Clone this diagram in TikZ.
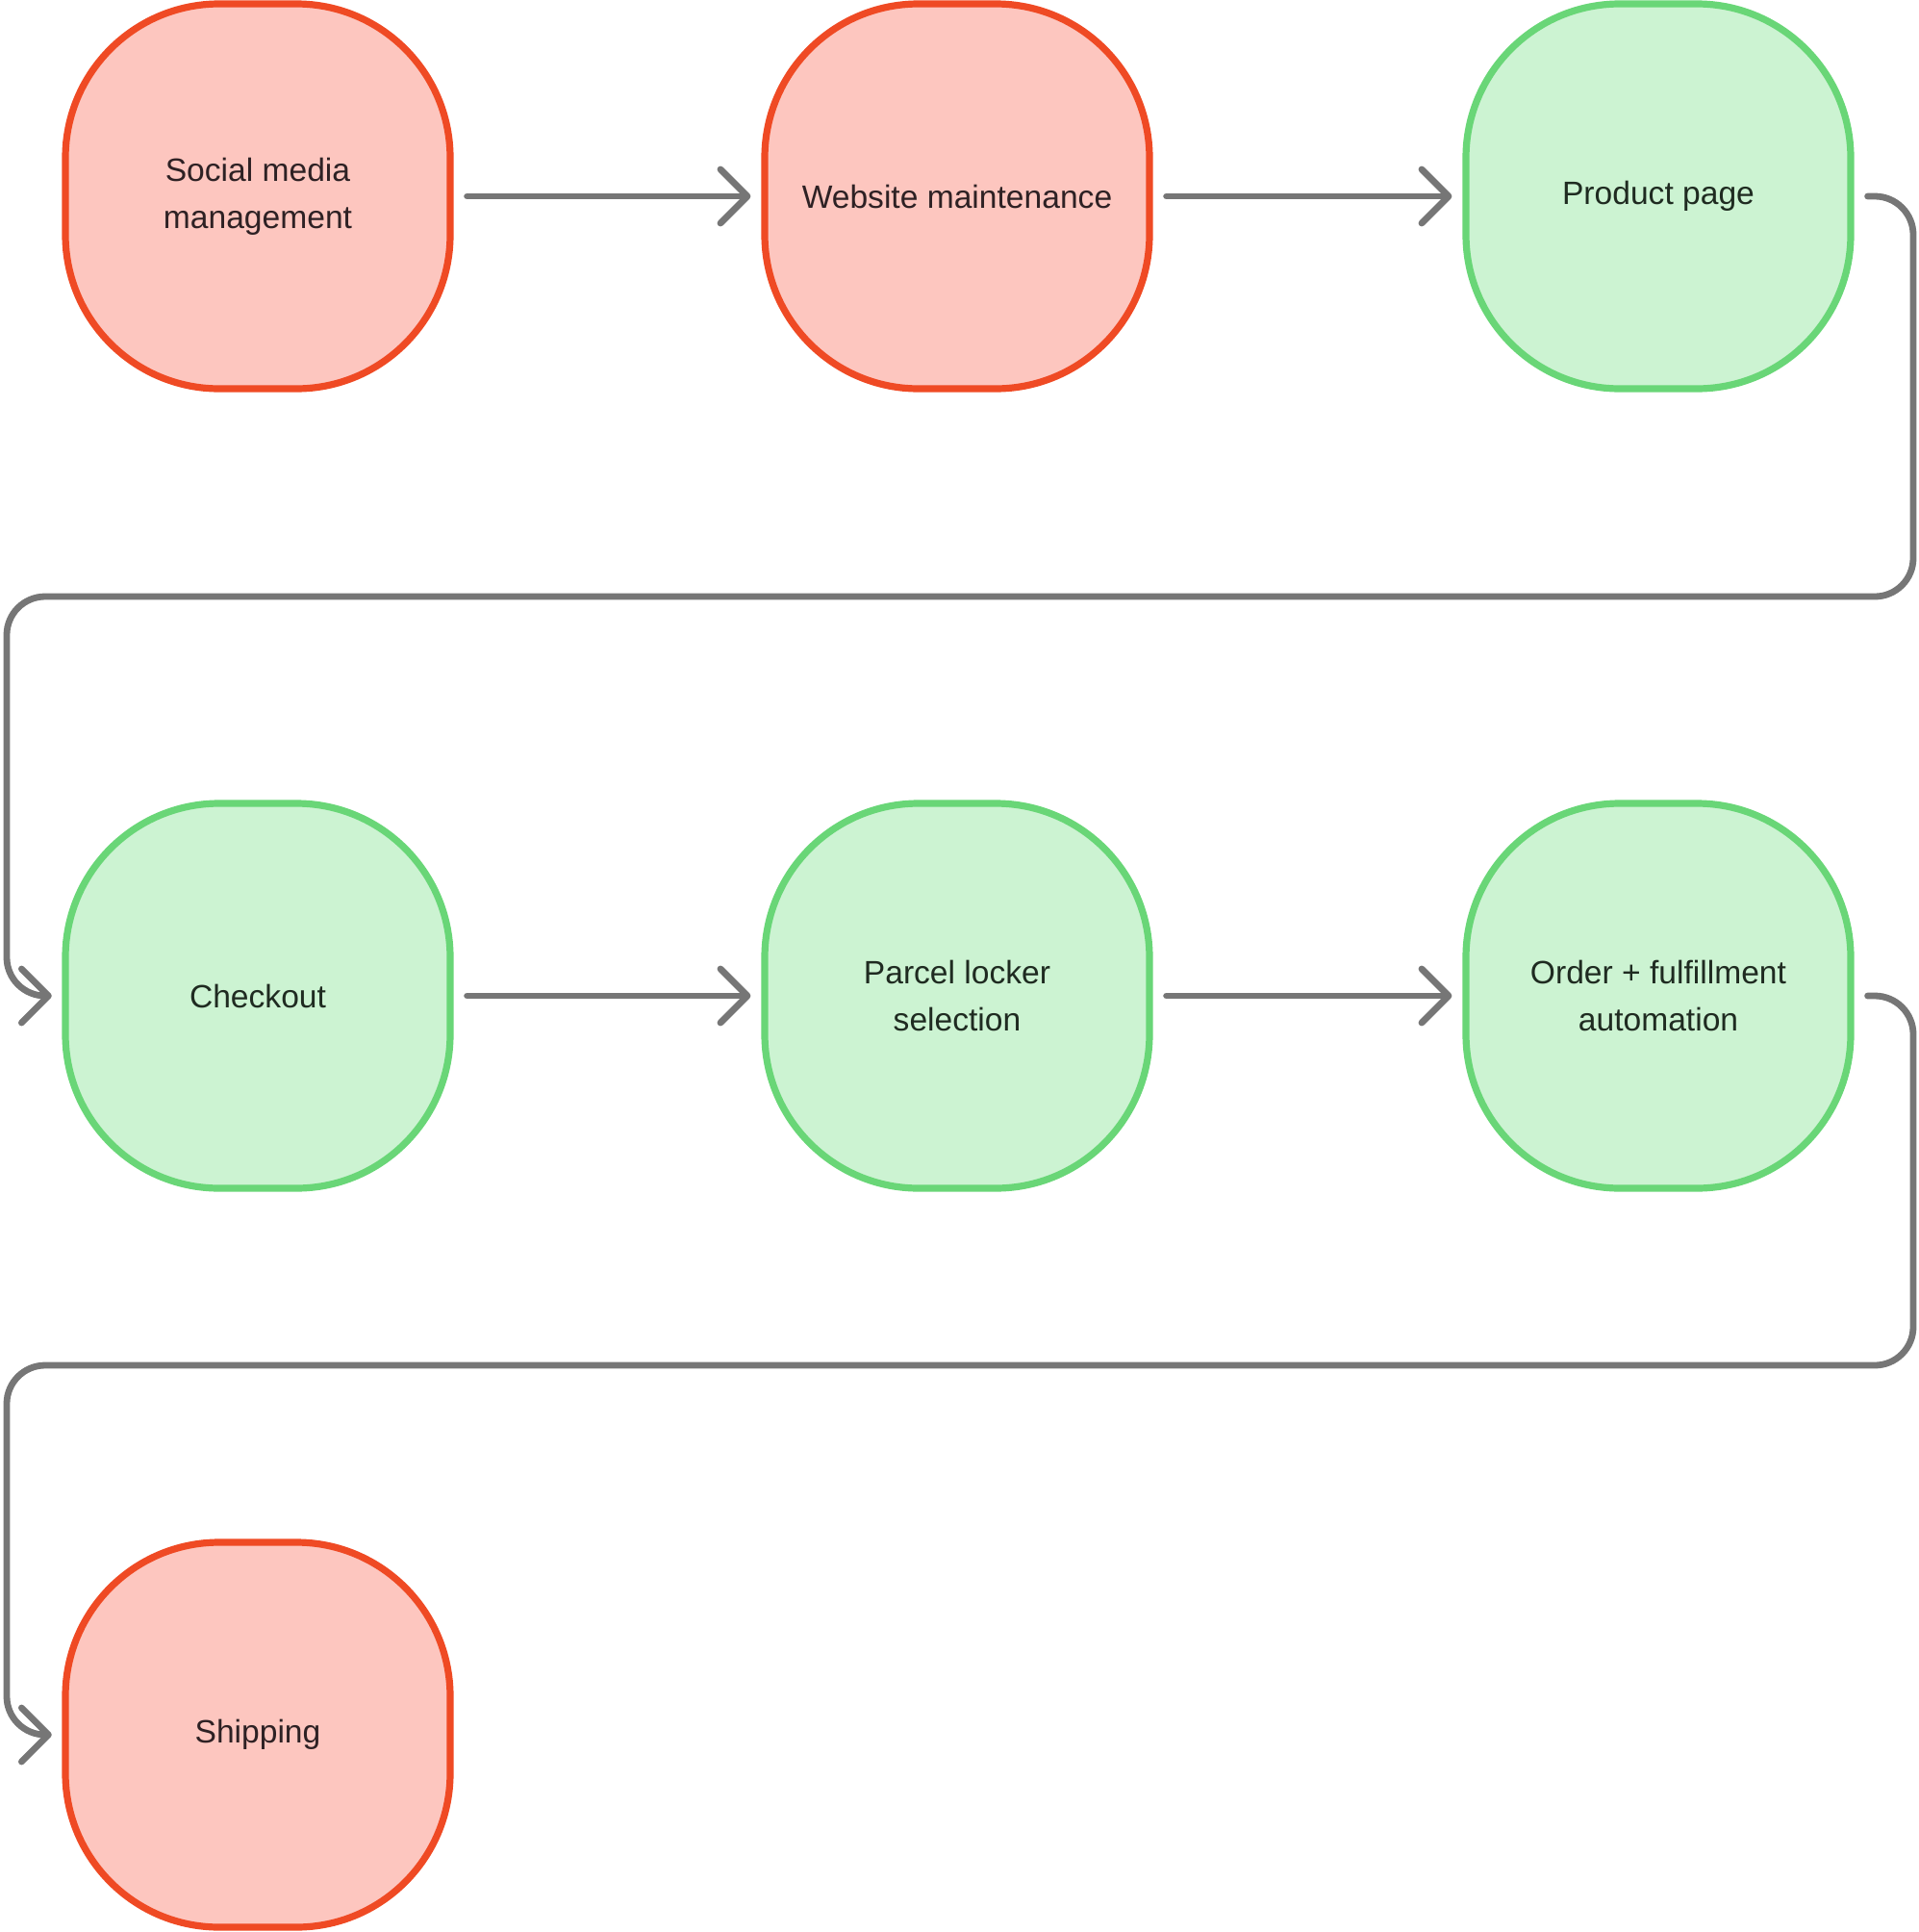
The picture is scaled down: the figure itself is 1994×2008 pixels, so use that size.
\documentclass[tikz,border=0pt]{standalone}
\usepackage{fontspec}
\setmainfont{Liberation Sans}
\usetikzlibrary{arrows.meta}

\definecolor{redline}{HTML}{EF4A24}
\definecolor{redfill}{HTML}{FDC6BF}
\definecolor{redtext}{HTML}{2E2124}
\definecolor{greenline}{HTML}{69D677}
\definecolor{greenfill}{HTML}{CCF3D2}
\definecolor{greentext}{HTML}{1F2B21}
\definecolor{flowgray}{HTML}{767676}

\begin{document}
\begin{tikzpicture}
[x=0.5pt,y=-0.5pt,
  boxdecorate/.style={shape=rectangle,rounded corners=80pt,minimum width=200pt,
    minimum height=200pt,line width=3.6pt,align=center,
    font=\fontsize{16.8}{24.4}\selectfont},%
  linedecorate/.style={line width=3.4pt,draw=flowgray,line cap=round,line join=round,
    -{Straight Barb[length=14pt,width=28pt,round]},shorten <=7pt,shorten >=5.5pt},%
  loopdecorate/.style={linedecorate,rounded corners=20pt,shorten <=0pt,shorten >=0pt}]
\useasboundingbox (0,0) rectangle (1994,2008);
%% steps of the shop
\foreach \nodename/\x/\y/\kind/\label in {
    social/268/204/red/{Social media\\management},
    website/995/204/red/{Website maintenance},
    product/1724/204/green/{Product page},
    checkout/268/1035/green/{Checkout},
    locker/995/1035/green/{Parcel locker\\selection},
    order/1724/1035/green/{Order + fulfillment\\automation},
    shipping/268/1803/red/{Shipping}} {
  \node (\nodename) at (\x,\y) [boxdecorate,draw=\kind line,fill=\kind fill,text=\kind text] {\label};
}
%% arrows within a row
\path
\foreach \startnode/\endnode in {social/website, website/product, checkout/locker, locker/order} {
  (\startnode) edge[linedecorate] (\endnode)
};
%% arrows back to the next row
\draw[loopdecorate] ([xshift=7pt]product.east) -| (1989,620) -| (7,1035) -- ([xshift=-5.3pt]checkout.west);
\draw[loopdecorate] ([xshift=7pt]order.east) -| (1989,1419) -| (7,1803) -- ([xshift=-5.3pt]shipping.west);
\end{tikzpicture}
\end{document}
